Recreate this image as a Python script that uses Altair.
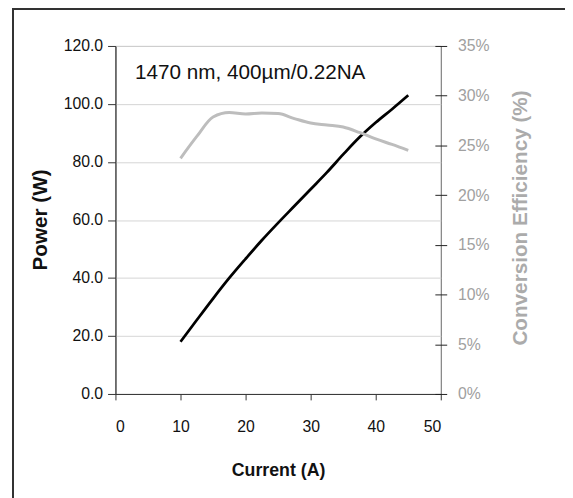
import altair as alt
import pandas as pd

current = [10, 12.5, 15, 17.5, 20, 22.5, 25, 27.5, 30, 32.5, 35, 37.5, 40, 42.5, 45]
power = [18.0, 25.5, 32.9, 40.0, 46.6, 53.0, 59.0, 64.8, 70.6, 76.4, 82.6, 88.5, 93.6, 98.2, 103.0]
efficiency = [23.7, 25.9, 27.85, 28.3, 28.15, 28.25, 28.2, 27.7, 27.25, 27.05, 26.85, 26.3, 25.65, 25.1, 24.5]

label_text = ["1470 nm, 400\u00b5m/0.22NA"]
label_x = [3.0]
label_y = [108.5]

df = pd.DataFrame({"current": current, "power": power, "eff": [e / 100 for e in efficiency]})
lab = pd.DataFrame({"x": label_x, "y": label_y, "t": label_text})

FONT = "Liberation Sans"

xenc = alt.X("current:Q", scale=alt.Scale(domain=[0, 50], nice=False),
             axis=alt.Axis(values=[0, 10, 20, 30, 40, 50], title="Current (A)",
                           grid=False, tickSize=6, labelPadding=19, labelFontSize=16,
                           labelFont=FONT, labelColor="#111", domainColor="#333",
                           tickColor="#333", titleFont=FONT, titleFontSize=18,
                           titleFontWeight="bold", titleColor="#111",
                           titleY=83, titleBaseline="alphabetic"))

power_line = alt.Chart(df).mark_line(color="black", strokeWidth=2.8,
                                     interpolate="monotone").encode(
    x=xenc,
    y=alt.Y("power:Q", scale=alt.Scale(domain=[0, 120], nice=False),
            axis=alt.Axis(values=[0, 20, 40, 60, 80, 100, 120], format=".1f",
                          title="Power (W)", grid=True, gridColor="#d4d4d4",
                          tickSize=8, labelPadding=5, labelFontSize=16, labelFont=FONT,
                          labelColor="#111", domainColor="#333", tickColor="#333",
                          titleFont=FONT, titleFontSize=21,
                          titleFontWeight="bold", titleColor="#111",
                          titleAngle=270, titleX=-76, titleY=176, titleAlign="center",
                          titleBaseline="middle"))
)

label = alt.Chart(lab).mark_text(align="left", baseline="alphabetic", fontSize=21,
                                 font=FONT, color="#111").encode(
    x="x:Q", y="y:Q", text="t:N")

eff_line = alt.Chart(df).mark_line(color="#bdbdbd", strokeWidth=3,
                                   interpolate="monotone").encode(
    x="current:Q",
    y=alt.Y("eff:Q", scale=alt.Scale(domain=[0, 0.35], nice=False),
            axis=alt.Axis(orient="right", values=[0, 0.05, 0.1, 0.15, 0.2, 0.25, 0.3, 0.35],
                          format=".0%", title="Conversion Efficiency (%)", grid=False,
                          domain=False, offset=-6, tickSize=12, labelPadding=11,
                          labelFontSize=16, labelFont=FONT, labelColor="#a0a0a0",
                          tickColor="#222", titleFont=FONT, titleFontSize=21,
                          titleFontWeight="bold", titleColor="#ababab", titleAngle=270,
                          titleX=87, titleY=174, titleAlign="center",
                          titleBaseline="middle"))
)

frame = alt.Chart(df).mark_rect(fill=None, stroke="#333", strokeWidth=1.5).encode(
    x=alt.value(-104), x2=alt.value(470), y=alt.value(-38), y2=alt.value(470))

chart = alt.layer(alt.layer(power_line, label), eff_line, frame).resolve_scale(
    y="independent"
).properties(
    width=330, height=353,
    autosize=alt.AutoSizeParams(type="none"),
    padding={"left": 109, "top": 35, "right": 126, "bottom": 102},
).configure_view(stroke="#666", strokeWidth=1)

chart.save("out.html", embed_options={"renderer": "svg", "actions": False})
